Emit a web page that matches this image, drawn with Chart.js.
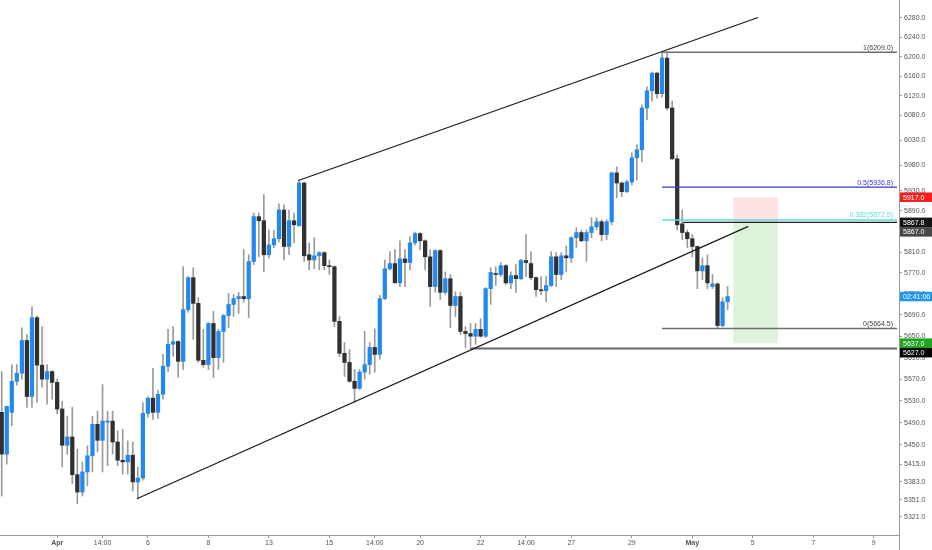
<!DOCTYPE html>
<html>
<head>
<meta charset="utf-8">
<script src="https://cdn.jsdelivr.net/npm/chart.js@4.4.0/dist/chart.umd.min.js"></script>
<style>
  html, body { margin: 0; padding: 0; background: #fff; }
</style>
</head>
<body>
<canvas id="chart" width="932" height="550"></canvas>
<script>
// 4h candles, index = bar slot
const opens = [5509,5433,5509,5566,5581,5642,5538,5685,5596,5570,5584,5564,5515,5449,5464,5396,5365,5401,5430,5487,
  5458,5491,5493,5455,5422,5419,5431,5383,5390,5507,5535,5509,5542,5594,5635,5640,5603,5700,5761,5712,
  5605,5597,5674,5610,5659,5689,5710,5721,5725,5721,5792,5879,5871,5805,5824,5836,5892,5821,5871,5861,
  5945,5805,5795,5803,5809,5784,5782,5678,5618,5601,5566,5553,5583,5597,5629,5616,5721,5778,5788,5751,
  5797,5790,5828,5846,5832,5801,5744,5813,5733,5759,5708,5725,5659,5655,5650,5663,5650,5740,5769,5767,
  5784,5751,5765,5759,5794,5788,5761,5738,5736,5746,5801,5767,5803,5799,5838,5848,5832,5848,5859,5869,
  5844,5869,5965,5945,5928,5947,5995,6011,6095,6130,6166,6124,6197,6095,5993,5865,5848,5836,5821,5774,
  5784,5744,5749,5670,5715];
const highs = [5584,5520,5597,5597,5666,5653,5706,5688,5668,5597,5586,5570,5529,5502,5518,5442,5419,5448,5502,5511,
  5560,5511,5511,5475,5478,5457,5455,5410,5527,5538,5590,5550,5616,5663,5668,5642,5782,5763,5780,5723,
  5663,5676,5697,5663,5691,5731,5729,5733,5815,5805,5886,5886,5922,5853,5853,5904,5902,5892,5886,5951,
  5947,5828,5838,5811,5811,5795,5784,5687,5638,5625,5588,5588,5659,5638,5664,5727,5795,5811,5815,5832,
  5815,5840,5849,5848,5834,5815,5815,5815,5772,5767,5734,5733,5668,5674,5674,5683,5742,5780,5782,5790,
  5786,5772,5786,5796,5844,5811,5763,5763,5763,5811,5809,5809,5822,5840,5857,5853,5853,5877,5877,5873,
  5873,5967,5977,5947,5951,6005,6021,6101,6138,6168,6168,6209,6209,6109,6001,5892,5853,5844,5822,5799,
  5805,5767,5751,5723,5744];
const lows = [5358,5415,5484,5559,5570,5518,5518,5527,5555,5524,5533,5506,5410,5433,5380,5344,5358,5376,5401,5437,
  5401,5412,5433,5412,5397,5397,5367,5353,5386,5500,5496,5498,5533,5584,5612,5573,5588,5695,5644,5601,
  5592,5588,5573,5588,5601,5666,5687,5693,5714,5685,5786,5801,5772,5799,5818,5830,5795,5805,5828,5861,
  5792,5776,5778,5776,5776,5767,5668,5612,5575,5564,5527,5551,5570,5579,5583,5607,5719,5776,5751,5744,
  5744,5776,5824,5815,5776,5706,5733,5719,5729,5666,5687,5653,5629,5631,5635,5648,5648,5710,5746,5763,
  5748,5740,5733,5757,5763,5757,5725,5729,5715,5744,5744,5757,5772,5790,5819,5830,5792,5838,5853,5832,
  5834,5863,5916,5918,5926,5941,5951,5987,6071,6109,6115,6117,6091,5991,5853,5834,5819,5801,5740,5757,
  5740,5740,5664.5,5668,5700];
const closes = [5433,5520,5566,5581,5642,5538,5685,5596,5570,5584,5564,5515,5449,5464,5396,5365,5401,5430,5487,5458,
  5493,5493,5455,5422,5419,5431,5383,5390,5507,5535,5509,5542,5594,5635,5640,5603,5700,5761,5712,5605,
  5597,5674,5610,5659,5689,5710,5721,5725,5721,5792,5879,5871,5805,5824,5836,5892,5821,5871,5863,5945,
  5803,5795,5803,5809,5784,5782,5678,5618,5601,5566,5553,5583,5597,5629,5616,5721,5778,5788,5751,5797,
  5790,5828,5846,5832,5801,5744,5813,5733,5759,5708,5725,5659,5655,5650,5663,5650,5740,5771,5767,5784,
  5751,5765,5759,5794,5790,5761,5738,5736,5746,5801,5767,5803,5799,5838,5848,5832,5848,5859,5869,5844,
  5869,5965,5945,5928,5947,5995,6011,6095,6130,6166,6124,6197,6095,5993,5863,5848,5836,5821,5774,5784,
  5751,5749,5670,5715,5725];

const priceTicks = [5321,5351,5383,5415,5450,5490,5530,5570,5610,5650,5690,5730,5770,5810,5850,5890,5930,5980,6030,6080,6120,6160,6200,6240,6280];
const timeTickIndex = [11,20,29,41,53,65,74,83,95,104,113,125,137,149,161,173];
const timeTickText = ['Apr','14:00','6','8','13','15','14:00','20','22','14:00','27','29','May','5','7','9'];

// drawings (bar index, price)
const channelUpper = [[58.85,5950],[150.05,6281]];
const channelLower = [[26.8,5353],[148.1,5860]];
const fibLevels = ['1','0.5','0.382','0'];
const fibPrices = [6209.0,5936.8,5872.5,5664.5];
const fibStart = 131;
const supportPrice = 5627.0;
const supportStart = 92.9;
const entryPrice = 5867.8;
const entryStart = 135.2;
const positionRange = [145.1,154.0];
const positionStop = 5917.0;
const positionEntry = 5867.0;
const positionTarget = 5637.0;
const countdownText = '02:41:06';

const X_MIN = -0.34, X_MAX = 178.0, LINE_END = 177.6;
const UP = '#2389f2', DOWN = '#303030', WICK = '#9a9a9a';
const FONT = "'Liberation Sans', Arial, sans-serif";

const idx = opens.map((_, i) => i);

function hline(price, from, color, width) {
  return {
    type: 'line', data: [{x: from, y: price}, {x: LINE_END, y: price}],
    borderColor: color, borderWidth: width, pointRadius: 0, order: 0, fill: false
  };
}

const fibColors = ['#6e6e6e','#3838d6','#62ddd8','#6e6e6e'];
const fibWidths = [1.5,1.2,1.6,1.5];

const datasets = [
  {
    type: 'line',
    data: [{x: positionRange[0], y: positionStop}, {x: positionRange[1], y: positionStop}],
    borderWidth: 0, pointRadius: 0, backgroundColor: 'rgba(255,80,80,0.16)',
    fill: {value: positionEntry}, order: 20
  },
  {
    type: 'line',
    data: [{x: positionRange[0], y: positionEntry}, {x: positionRange[1], y: positionEntry}],
    borderWidth: 0, pointRadius: 0, backgroundColor: 'rgba(90,190,80,0.2)',
    fill: {value: positionTarget}, order: 20
  },
  {
    type: 'bar',
    data: idx.map(i => ({x: i, y: [lows[i], highs[i]]})),
    backgroundColor: WICK, barThickness: 1, grouped: false, order: 3
  },
  {
    type: 'bar',
    data: idx.map(i => ({x: i, y: [opens[i], closes[i]]})),
    backgroundColor: idx.map(i => closes[i] >= opens[i] ? UP : DOWN),
    barThickness: 3.6, minBarLength: 1, grouped: false, order: 2
  },
  {
    type: 'line', data: channelUpper.map(p => ({x: p[0], y: p[1]})),
    borderColor: '#1a1a1a', borderWidth: 1.2, pointRadius: 0, order: 0, fill: false
  },
  {
    type: 'line', data: channelLower.map(p => ({x: p[0], y: p[1]})),
    borderColor: '#1a1a1a', borderWidth: 1.2, pointRadius: 0, order: 0, fill: false
  },
  hline(supportPrice, supportStart, '#666', 2),
  hline(entryPrice, entryStart, '#1e1e1e', 1.2)
];
fibPrices.forEach((p, k) => datasets.push(hline(p, fibStart, fibColors[k], fibWidths[k])));

const overlay = {
  id: 'overlay',
  afterDatasetsDraw(chart) {
    const ctx = chart.ctx, y = chart.scales.y, area = chart.chartArea;
    ctx.save();
    ctx.font = '7px ' + FONT;
    ctx.textAlign = 'right';
    ctx.textBaseline = 'bottom';
    fibPrices.forEach((p, k) => {
      ctx.fillStyle = k === 0 || k === 3 ? '#444' : fibColors[k];
      ctx.fillText(fibLevels[k] + '(' + p.toFixed(1) + ')', area.right - 6, y.getPixelForValue(p) - 1);
    });
    ctx.restore();
  },
  afterDraw(chart) {
    const ctx = chart.ctx, y = chart.scales.y, area = chart.chartArea;
    const last = closes[closes.length - 1];
    const tags = [
      {v: positionStop, t: positionStop.toFixed(1), bg: '#f51f1f'},
      {v: entryPrice, t: entryPrice.toFixed(1), bg: '#141414'},
      {v: positionEntry, t: positionEntry.toFixed(1), bg: '#474747'},
      {v: last, t: countdownText, bg: '#2196f3'},
      {v: positionTarget, t: positionTarget.toFixed(1), bg: '#1ea71e'},
      {v: supportPrice, t: supportPrice.toFixed(1), bg: '#050505'}
    ];
    const h = 9.5;
    let prev = -100;
    ctx.save();
    ctx.strokeStyle = '#999';
    ctx.lineWidth = 1;
    ctx.beginPath();
    ctx.moveTo(area.right + 0.5, area.bottom);
    ctx.lineTo(area.right + 0.5, chart.height);
    ctx.stroke();
    ctx.font = '7px ' + FONT;
    ctx.textBaseline = 'middle';
    ctx.textAlign = 'left';
    tags.forEach(tag => {
      let cy = y.getPixelForValue(tag.v);
      if (cy < prev + h) cy = prev + h;
      prev = cy;
      ctx.fillStyle = tag.bg;
      ctx.fillRect(area.right + 1, cy - h / 2, chart.width - area.right - 1, h);
      ctx.fillStyle = '#fff';
      ctx.fillText(tag.t, area.right + 4, cy + 0.5);
    });
    ctx.restore();
  }
};

new Chart(document.getElementById('chart'), {
  type: 'bar',
  data: {datasets},
  plugins: [overlay],
  options: {
    responsive: false,
    animation: false,
    layout: {padding: 0},
    plugins: {legend: {display: false}, tooltip: {enabled: false}},
    scales: {
      x: {
        type: 'linear', min: X_MIN, max: X_MAX, offset: false,
        afterBuildTicks: s => { s.ticks = timeTickIndex.map(v => ({value: v})); },
        afterFit: s => { s.height = 15; s.paddingLeft = 0; s.paddingRight = 0; },
        ticks: {
          autoSkip: false, maxRotation: 0, padding: 1, color: '#555',
          font: c => ({family: FONT, size: 7, weight: ['Apr','May'].includes(timeTickText[timeTickIndex.indexOf(c.tick && c.tick.value)]) ? 'bold' : 'normal'}),
          callback: v => timeTickText[timeTickIndex.indexOf(v)] || ''
        },
        grid: {drawOnChartArea: false, offset: false, tickLength: 3, color: '#999'},
        border: {color: '#999'}
      },
      y: {
        type: 'logarithmic', position: 'right', min: 5289, max: 6317.6,
        afterBuildTicks: s => { s.ticks = priceTicks.map(v => ({value: v})); },
        afterFit: s => { s.width = 33; s.paddingTop = 0; s.paddingBottom = 0; },
        ticks: {
          padding: 2, color: '#555', font: {family: FONT, size: 7},
          callback: v => Number(v).toFixed(1)
        },
        grid: {drawOnChartArea: false, tickLength: 3, color: '#999'},
        border: {color: '#999'}
      }
    }
  }
});
</script>
</body>
</html>
